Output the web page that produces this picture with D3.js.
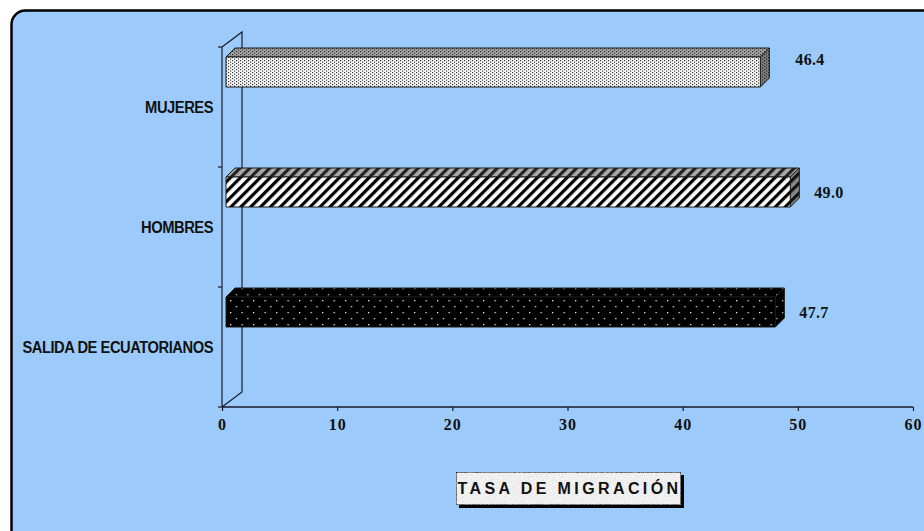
<!DOCTYPE html>
<html>
<head>
<meta charset="utf-8">
<script src="https://cdn.jsdelivr.net/npm/d3@7"></script>
<style>
  html, body { margin: 0; padding: 0; background: #ffffff; }
  svg { display: block; }
</style>
</head>
<body>
<svg id="chart" width="924" height="531"></svg>
<script>
// Migration rates by group
const categories = ["MUJERES", "HOMBRES", "SALIDA DE ECUATORIANOS"];
const values = [46.4, 49.0, 47.7];
const xTicks = [0, 10, 20, 30, 40, 50, 60];
const axisTitle = "TASA DE MIGRACIÓN";

const W = 924, H = 531;
const svg = d3.select("#chart");

// Layout of the pseudo-3D plot
const plot = { left: 222, right: 913, top: 47, bottom: 407 };
const wall = { dx: 20, dy: -15 };          // depth of the back wall
const bar = { inset: 4, top: 10, height: 30, dx: 9, dy: -9 };
const labelNudge = [[11, -13], [0, 0], [0, 0]];

const x = d3.scaleLinear().domain([0, 60]).range([plot.left, plot.right]);
const y = d3.scaleBand().domain(categories).range([plot.top, plot.bottom]).paddingInner(0).paddingOuter(0);

const defs = svg.append("defs");

// Fill patterns
function dotPattern(id, bg, fg, w, h, dots, r) {
  const p = defs.append("pattern").attr("id", id).attr("patternUnits", "userSpaceOnUse")
    .attr("width", w).attr("height", h);
  p.append("rect").attr("width", w).attr("height", h).attr("fill", bg);
  dots.forEach(([cx, cy]) => p.append("rect").attr("x", cx).attr("y", cy)
    .attr("width", r).attr("height", r).attr("fill", fg));
}
function stripePattern(id, bg, fg, period, thick) {
  const p = defs.append("pattern").attr("id", id).attr("patternUnits", "userSpaceOnUse")
    .attr("width", period).attr("height", period).attr("patternTransform", "rotate(45)");
  p.append("rect").attr("width", period).attr("height", period).attr("fill", bg);
  p.append("rect").attr("width", thick).attr("height", period).attr("fill", fg);
}

dotPattern("p0front", "#ffffff", "#333333", 4, 3, [[0, 0], [2, 1.5]], 1.2);
dotPattern("p0top", "#a8a8a8", "#2a2a2a", 4, 3, [[0, 0], [2, 1.5]], 1.2);
dotPattern("p0side", "#808080", "#222222", 4, 3, [[0, 0], [2, 1.5]], 1.2);
stripePattern("p1front", "#ffffff", "#000000", 7, 3.2);
stripePattern("p1top", "#aaaaaa", "#222222", 7, 3.2);
stripePattern("p1side", "#888888", "#111111", 7, 3.2);
dotPattern("p2front", "#000000", "#e8e8e8", 11.5, 12, [[0, 0], [5.75, 6]], 1.3);
dotPattern("p2top", "#000000", "#bbbbbb", 11.5, 12, [[0, 0], [5.75, 6]], 1.3);
dotPattern("p2side", "#000000", "#bbbbbb", 11.5, 12, [[0, 0], [5.75, 6]], 1.3);

// Speckled fill for the title box
const noise = defs.append("filter").attr("id", "speckle").attr("x", 0).attr("y", 0).attr("width", 1).attr("height", 1);
noise.append("feTurbulence").attr("type", "fractalNoise").attr("baseFrequency", 0.9).attr("numOctaves", 2).attr("seed", 3).attr("result", "n");
noise.append("feColorMatrix").attr("in", "n").attr("type", "matrix")
  .attr("values", "0 0 0 0 0.6  0 0 0 0 0.6  0 0 0 0 0.6  0 0 0 -1.4 0.85").attr("result", "g");
noise.append("feComposite").attr("in", "g").attr("in2", "SourceGraphic").attr("operator", "in").attr("result", "g2");
noise.append("feMerge").selectAll("feMergeNode").data(["SourceGraphic", "g2"]).join("feMergeNode").attr("in", d => d);

// Chart area background
svg.append("rect").attr("x", 11.5).attr("y", 10.5).attr("width", 940).attr("height", 540)
  .attr("rx", 14).attr("fill", "#9ccbfb").attr("stroke", "#000").attr("stroke-width", 2.5);

// Back wall / floor outline
const wallG = svg.append("g").attr("fill", "none").attr("stroke", "#1a1a2a").attr("stroke-width", 1.2);
wallG.append("path").attr("d", d3.line()([
  [plot.left, plot.top], [plot.left + wall.dx, plot.top + wall.dy],
  [plot.left + wall.dx, plot.bottom + wall.dy], [plot.left, plot.bottom]
]));

// Category axis (front edge)
const yAxis = svg.append("g").attr("transform", `translate(${plot.left},0)`)
  .call(d3.axisLeft(y).tickSize(0).tickFormat(""));
yAxis.select(".domain").remove();
yAxis.append("line").attr("x1", 0).attr("x2", 0).attr("y1", plot.top).attr("y2", plot.bottom)
  .attr("stroke", "#1a1a2a").attr("stroke-width", 1.2);
yAxis.selectAll(".bt").data([plot.top, ...categories.slice(1).map(c => y(c)), plot.bottom]).join("line")
  .attr("class", "bt").attr("x1", -4).attr("x2", 0).attr("y1", d => d).attr("y2", d => d)
  .attr("stroke", "#1a1a2a").attr("stroke-width", 1.2);

// Category labels (condensed bold)
const catRight = 213;
svg.append("g").selectAll("text").data(categories).join("text")
  .attr("transform", d => `translate(${catRight},${y(d) + y.bandwidth() / 2}) scale(0.92,1)`)
  .attr("dy", "0.36em").attr("text-anchor", "end")
  .attr("font-family", "'Liberation Sans', Arial, sans-serif")
  .attr("font-weight", "bold").attr("font-size", 16).attr("fill", "#111")
  .style("letter-spacing", "-0.5px")
  .text(d => d);

// Value axis
const xAxis = svg.append("g").attr("transform", `translate(0,${plot.bottom})`)
  .call(d3.axisBottom(x).tickValues(xTicks).tickSize(4).tickSizeOuter(0).tickPadding(8).tickFormat(d3.format("d")));
xAxis.select(".domain").attr("stroke", "#1a1a2a").attr("stroke-width", 1.4)
  .attr("d", `M${plot.left},0H${plot.right}`);
xAxis.selectAll(".tick line").attr("stroke", "#1a1a2a").attr("stroke-width", 1.2);
xAxis.selectAll(".tick text").attr("fill", "#111")
  .attr("font-family", "'Liberation Serif', 'Times New Roman', serif")
  .attr("font-weight", "bold").attr("font-size", 16).style("letter-spacing", "1px");

// Bars: front face, top face and end face
const barsG = svg.append("g");
categories.forEach((c, i) => {
  const x0 = x(0) + bar.inset, x1 = x(values[i]) + bar.inset;
  const yt = y(c) + bar.top, yb = yt + bar.height;
  const g = barsG.append("g").attr("stroke", "#1a1a1a").attr("stroke-width", 1).attr("stroke-linejoin", "round");
  g.append("path").attr("fill", `url(#p${i}top)`).attr("d", d3.line()([
    [x0, yt], [x0 + bar.dx, yt + bar.dy], [x1 + bar.dx, yt + bar.dy], [x1, yt]
  ]) + "Z");
  g.append("path").attr("fill", `url(#p${i}side)`).attr("d", d3.line()([
    [x1, yt], [x1 + bar.dx, yt + bar.dy], [x1 + bar.dx, yb + bar.dy], [x1, yb]
  ]) + "Z");
  g.append("rect").attr("x", x0).attr("y", yt).attr("width", x1 - x0).attr("height", bar.height)
    .attr("fill", `url(#p${i}front)`);

  // Value label
  svg.append("text")
    .attr("x", x1 + bar.dx + 15 + labelNudge[i][0])
    .attr("y", yt + bar.height / 2 + labelNudge[i][1])
    .attr("dy", "0.36em")
    .attr("font-family", "'Liberation Serif', 'Times New Roman', serif")
    .attr("font-weight", "bold").attr("font-size", 16).attr("fill", "#111")
    .style("letter-spacing", "0.3px")
    .text(d3.format(".1f")(values[i]));
});

// Axis title box with shadow
const tb = { x: 456, y: 472, w: 225, h: 33 };
const titleG = svg.append("g");
titleG.append("rect").attr("x", tb.x + 3).attr("y", tb.y + 3).attr("width", tb.w).attr("height", tb.h).attr("fill", "#000");
titleG.append("rect").attr("x", tb.x).attr("y", tb.y).attr("width", tb.w).attr("height", tb.h)
  .attr("fill", "#f6f6f6").attr("stroke", "#000").attr("stroke-width", 1.2).attr("filter", "url(#speckle)");
titleG.append("text").attr("x", tb.x + tb.w / 2 + 1).attr("y", tb.y + tb.h / 2)
  .attr("dy", "0.36em").attr("text-anchor", "middle")
  .attr("font-family", "'Liberation Sans', Arial, sans-serif").attr("font-weight", "bold")
  .attr("font-size", 16).attr("fill", "#111").style("letter-spacing", "3.4px")
  .text(axisTitle);
</script>
</body>
</html>
